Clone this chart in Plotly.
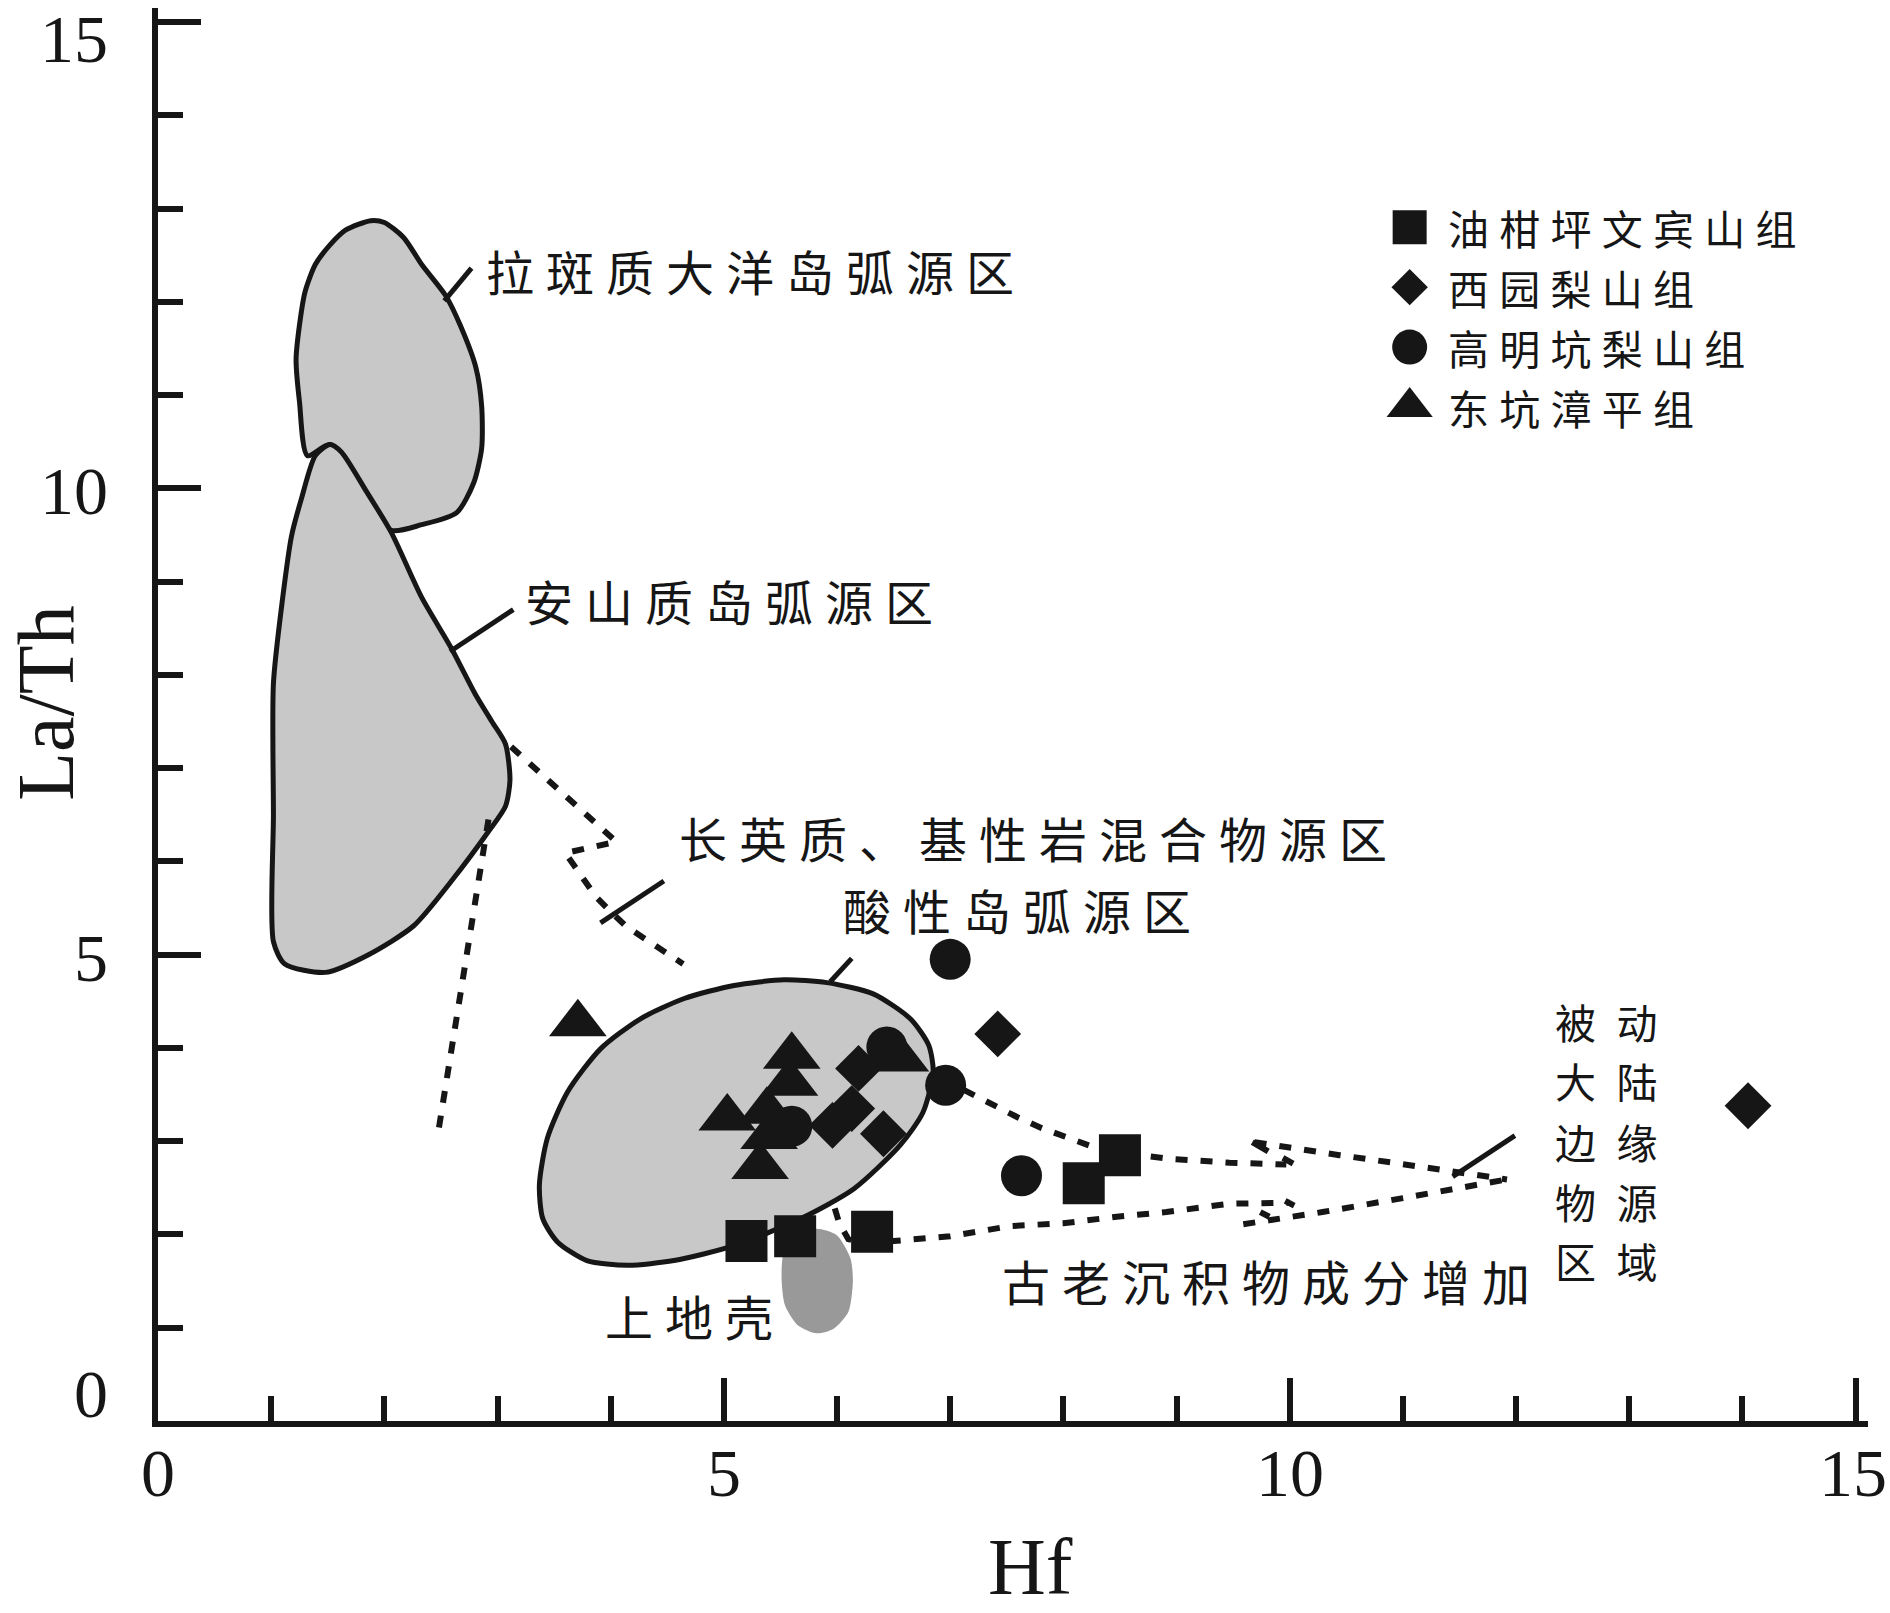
import plotly.graph_objects as go

# ---------------- data (Hf, La/Th) ----------------
# 油柑坪文宾山组 (squares)
sq_hf = [5.20, 5.63, 6.31, 8.18, 8.50]
sq_lath = [1.93, 1.98, 2.03, 2.55, 2.85]
# 西园梨山组 (diamonds)
di_hf = [7.42, 14.05, 6.19, 6.13, 5.96, 6.41]
di_lath = [4.15, 3.38, 3.78, 3.35, 3.17, 3.08]
# 高明坑梨山组 (circles)
ci_hf = [7.00, 6.44, 5.60, 6.96, 7.63]
ci_lath = [4.95, 4.01, 3.16, 3.60, 2.63]
# 东坑漳平组 (triangles)
tr_hf = [3.71, 5.60, 5.58, 5.38, 5.03, 5.40, 5.32, 6.56]
tr_lath = [4.26, 3.91, 3.62, 3.32, 3.25, 3.05, 2.73, 3.88]

series_names = ["油柑坪文宾山组", "西园梨山组", "高明坑梨山组", "东坑漳平组"]

# ---------------- source fields ----------------
tholeiite_hf = [1.88, 2.00, 2.17, 2.33, 2.54, 2.67, 2.81, 2.86, 2.86, 2.79, 2.64, 2.33, 2.06,
                1.75, 1.52, 1.32, 1.25, 1.22, 1.25, 1.30, 1.39, 1.52, 1.66]
tholeiite_lath = [12.87, 12.85, 12.69, 12.40, 12.07, 11.75, 11.29, 10.88, 10.43, 10.06, 9.74, 9.61, 9.55,
                  10.0, 10.47, 10.35, 10.93, 11.38, 11.75, 12.11, 12.40, 12.61, 12.77]

andesite_hf = [1.52, 1.62, 1.84, 2.06, 2.33, 2.59, 2.80, 2.95, 3.07, 3.11, 3.07, 2.92, 2.60, 2.26,
               1.86, 1.48, 1.12, 1.02, 1.02, 1.02, 1.10, 1.18, 1.27, 1.39]
andesite_lath = [10.47, 10.39, 9.97, 9.53, 8.83, 8.29, 7.80, 7.50, 7.26, 6.87, 6.59, 6.32, 5.80, 5.31,
                 5.00, 4.81, 4.90, 5.14, 6.50, 7.91, 8.81, 9.49, 9.90, 10.35]

felsic_hf = [3.37, 3.40, 3.53, 3.79, 4.15, 4.56, 5.09, 5.68, 6.15, 6.56, 6.76, 6.85, 6.81, 6.65,
             6.32, 5.91, 5.53, 5.09, 4.65, 4.26, 3.91, 3.62, 3.44]
felsic_lath = [2.53, 2.17, 1.92, 1.72, 1.67, 1.72, 1.88, 2.17, 2.49, 2.96, 3.31, 3.74, 4.03, 4.31,
               4.58, 4.70, 4.73, 4.67, 4.53, 4.31, 3.99, 3.53, 3.03]

crust_hf = [5.53, 5.65, 5.82, 6.00, 6.12, 6.14, 6.10, 5.97, 5.82, 5.65, 5.54, 5.51]
crust_lath = [1.81, 1.99, 2.06, 1.99, 1.74, 1.49, 1.17, 0.99, 0.94, 1.03, 1.24, 1.53]

# ---------------- dashed trend lines ----------------
trendA_hf = [3.12, 4.05, 3.60, 3.87, 4.00, 4.14, 4.64]
trendA_lath = [7.23, 6.21, 6.09, 5.62, 5.46, 5.30, 4.90]
trendB_hf = [2.92, 2.47]
trendB_lath = [6.45, 3.05]
upperL_hf = [7.12, 7.37, 7.59, 7.81, 8.03, 8.26, 8.50, 8.75, 8.94, 9.47, 9.97]
upperL_lath = [3.55, 3.39, 3.26, 3.14, 3.04, 2.94, 2.88, 2.84, 2.81, 2.77, 2.75]
upperR_hf = [9.69, 9.94, 10.44, 10.91, 11.39, 11.92]
upperR_lath = [2.99, 2.94, 2.85, 2.77, 2.68, 2.59]
lowerL_hf = [5.98, 6.02, 6.10, 6.25, 6.50, 7.00, 7.53, 8.00, 8.47, 8.91, 9.47, 10.00]
lowerL_lath = [2.28, 2.12, 1.95, 1.90, 1.93, 1.98, 2.09, 2.12, 2.19, 2.24, 2.33, 2.34]
lowerR_hf = [9.59, 10.29, 11.00, 11.72, 11.92]
lowerR_lath = [2.11, 2.24, 2.39, 2.54, 2.59]
break_hf = [9.67, 9.81, None, 9.94, 10.03, None, 9.96, 10.04, None, 9.74, 9.82]
break_lath = [2.99, 2.89, None, 2.82, 2.76, None, 2.36, 2.31, None, 2.24, 2.19]

# ---------------- leader lines ----------------
leader_hf = [2.53, 2.77, None, 2.58, 3.14, None, 3.91, 4.47, None, 5.94, 6.13, None, 11.44, 11.99]
leader_lath = [12.01, 12.36, None, 8.25, 8.70, None, 5.34, 5.79, None, 4.71, 4.96, None, 2.62, 3.06]

# ---------------- labels ----------------
field_labels = ["拉斑质大洋岛弧源区", "安山质岛弧源区", "长英质、基性岩混合物源区", "酸性岛弧源区",
                "上地壳", "古老沉积物成分增加"]
label_hf = [2.90, 3.24, 4.60, 6.05, 3.95, 7.46]
label_lath = [12.34, 8.80, 6.26, 5.49, 1.14, 1.51]
passive_rows = ["被动", "大陆", "边缘", "物源", "区域"]
passive_hf = 12.34
passive_lath = [4.294, 3.651, 3.007, 2.364, 1.721]

x_ticks = [0, 5, 10, 15]
y_ticks = [0, 5, 10, 15]

INK = "#161616"
FIELD = "#c8c8c8"
CRUST = "#999999"
CJK = "Noto Sans CJK SC"
SERIF = "Liberation Serif"


def spaced(s, gap="\u2005"):
    return gap.join(list(s))


fig = go.Figure()


def add_field(xs, ys, fill, lw):
    fig.add_trace(go.Scatter(
        x=xs + [xs[0]], y=ys + [ys[0]], mode="lines", fill="toself", fillcolor=fill,
        line=dict(color=INK if lw else fill, width=lw, shape="spline", smoothing=0.7),
        hoverinfo="skip", showlegend=False))


add_field(tholeiite_hf, tholeiite_lath, FIELD, 5)
add_field(andesite_hf, andesite_lath, FIELD, 5)
add_field(felsic_hf, felsic_lath, FIELD, 5)
add_field(crust_hf, crust_lath, CRUST, 0)

dash_style = dict(color=INK, width=6, dash="12px,13px")
for xs, ys in [(trendA_hf, trendA_lath), (trendB_hf, trendB_lath), (upperL_hf, upperL_lath),
               (upperR_hf, upperR_lath), (lowerL_hf, lowerL_lath), (lowerR_hf, lowerR_lath)]:
    fig.add_trace(go.Scatter(x=xs, y=ys, mode="lines", line=dash_style,
                             hoverinfo="skip", showlegend=False))

fig.add_trace(go.Scatter(x=break_hf, y=break_lath, mode="lines",
                         line=dict(color=INK, width=6), hoverinfo="skip", showlegend=False))
fig.add_trace(go.Scatter(x=leader_hf, y=leader_lath, mode="lines",
                         line=dict(color=INK, width=5), hoverinfo="skip", showlegend=False))

symbols = ["square", "diamond", "circle", "triangle-up"]
sizes = [42, 36, 41, 50]
xs_all = [sq_hf, di_hf, ci_hf, tr_hf]
ys_all = [sq_lath, di_lath, ci_lath, tr_lath]
for name, sym, sz, xs, ys in zip(series_names, symbols, sizes, xs_all, ys_all):
    fig.add_trace(go.Scatter(x=xs, y=ys, mode="markers", name=name,
                             marker=dict(symbol=sym, size=sz, color=INK, line=dict(width=0)),
                             showlegend=False))

# manual legend (keys + text) placed in the upper right
leg_x = 11.06
leg_text_x = 11.40
leg_y = [12.80, 12.157, 11.514, 10.871]
leg_sizes = [34, 28, 35, 40]
for name, sym, sz, ly in zip(series_names, symbols, leg_sizes, leg_y):
    fig.add_trace(go.Scatter(x=[leg_x], y=[ly], mode="markers",
                             marker=dict(symbol=sym, size=sz, color=INK, line=dict(width=0)),
                             hoverinfo="skip", showlegend=False))

annotations = []


def note(**kw):
    base = dict(showarrow=False, borderpad=0, borderwidth=0)
    base.update(kw)
    annotations.append(base)


for name, ly in zip(series_names, leg_y):
    note(x=leg_text_x, y=ly, xref="x", yref="y", text=spaced(name, "\u2005"),
         xanchor="left", yanchor="middle", font=dict(family=CJK, size=41, color=INK))
for txt, lx, ly in zip(field_labels, label_hf, label_lath):
    note(x=lx, y=ly, xref="x", yref="y", text=spaced(txt),
         xanchor="left", yanchor="middle", font=dict(family=CJK, size=48, color=INK))
for row, ly in zip(passive_rows, passive_lath):
    note(x=passive_hf, y=ly, xref="x", yref="y", text=spaced(row, "\u2002"),
         xanchor="left", yanchor="middle", font=dict(family=CJK, size=41, color=INK))

# tick labels (annotations so the end labels stay inside the picture)
tick_font = dict(family=SERIF, size=68, color=INK)
for v in x_ticks:
    note(x=v, y=0, xref="x", yref="paper", text=str(v),
         xshift=(-3 if v == x_ticks[-1] else 0), yshift=-14,
         xanchor="center", yanchor="top", font=tick_font)
for v in y_ticks:
    if v == y_ticks[-1]:
        note(x=-0.0292, y=1, xref="paper", yref="paper", text=str(v), yshift=7,
             xanchor="right", yanchor="top", font=tick_font)
    else:
        note(x=-0.0292, y=v, xref="paper", yref="y", text=str(v),
             yshift=(27 if v == 0 else -3),
             xanchor="right", yanchor="middle", font=tick_font)

# axis titles
note(x=-0.0655, y=7.70, xref="paper", yref="y", text="La/Th", textangle=-90,
     xanchor="center", yanchor="middle", font=dict(family=SERIF, size=80, color=INK))
note(x=0.5105, y=-0.1036, xref="paper", yref="paper", text="Hf",
     xanchor="center", yanchor="middle", font=dict(family=SERIF, size=80, color=INK))

axis_common = dict(
    showgrid=False, zeroline=False, showline=True, linewidth=6, linecolor=INK,
    ticks="inside", ticklen=43, tickwidth=6, tickcolor=INK, showticklabels=False,
    minor=dict(ticks="inside", ticklen=25, tickwidth=6, tickcolor=INK, dtick=1, tick0=0,
               showgrid=False),
    fixedrange=True,
)

fig.update_layout(
    width=1890, height=1613,
    margin=dict(l=158, r=22, t=8, b=192, autoexpand=False),
    paper_bgcolor="white", plot_bgcolor="white",
    xaxis=dict(range=[0, 15.11], tickvals=x_ticks, **axis_common),
    yaxis=dict(range=[0, 15.15], tickvals=y_ticks, **axis_common),
    annotations=annotations,
    showlegend=False,
)

fig.write_html("out.html", config={"displayModeBar": False},
               post_script="document.body.style.margin='0px';document.body.style.overflow='hidden';")
